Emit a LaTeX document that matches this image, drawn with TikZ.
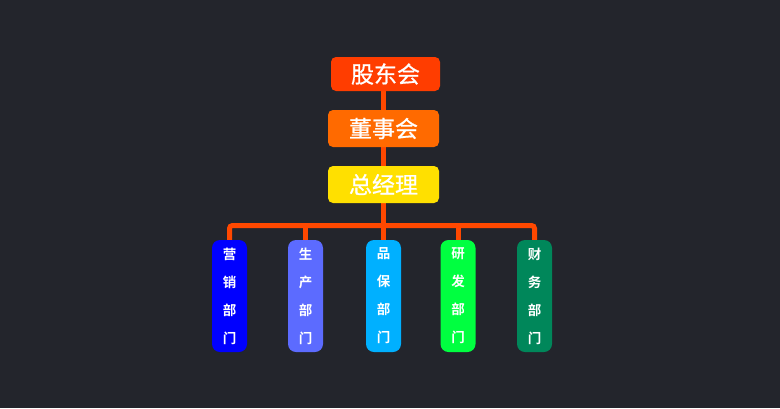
\documentclass[tikz,border=0pt]{standalone}
\usepackage{fontspec}
\newfontfamily\cjk[FakeBold=0.8]{Noto Sans CJK SC}
\newfontfamily\cjkb{Noto Sans CJK SC Bold}
\pgfdeclarelayer{bgl}
\pgfsetlayers{bgl,main}
\definecolor{bg}{HTML}{23252C}
\definecolor{linec}{HTML}{FF4800}
\definecolor{cA}{HTML}{FF3D00}
\definecolor{cB}{HTML}{FF6A00}
\definecolor{cC}{HTML}{FFE000}
\definecolor{d1c}{HTML}{0000FF}
\definecolor{d2c}{HTML}{5C6BFF}
\definecolor{d3c}{HTML}{00B0FF}
\definecolor{d4c}{HTML}{00FF40}
\definecolor{d5c}{HTML}{00875A}
\begin{document}
\begin{tikzpicture}[x=1pt,y=-1pt,
  topbox/.style={rounded corners=5pt, minimum width=111pt, minimum height=37pt, inner sep=0pt, text=white, font=\cjk\fontsize{23}{23}\selectfont},
  deptbox/.style={rounded corners=8pt, minimum width=35pt, minimum height=112pt, inner sep=0pt, text=white, font=\cjkb\fontsize{13.5}{28}\selectfont, align=center},
  conn/.style={draw=linec, line width=5pt}]
\useasboundingbox (0,0) rectangle (780,408);
\node[topbox, fill=cA, minimum width=109pt, minimum height=34pt] (gd) at (385.5,74) {股东会};
\node[topbox, fill=cB] (dsh) at (383.5,128.5) {董事会};
\node[topbox, fill=cC] (zjl) at (383.5,184.5) {总经理};
\node[deptbox, fill=d1c] (d1) at (229.5,296) {营\\销\\部\\门};
\node[deptbox, fill=d2c] (d2) at (305.5,296) {生\\产\\部\\门};
\node[deptbox, fill=d3c] (d3) at (383.5,296) {品\\保\\部\\门};
\node[deptbox, fill=d4c] (d4) at (458,296) {研\\发\\部\\门};
\node[deptbox, fill=d5c] (d5) at (534.5,296) {财\\务\\部\\门};
\coordinate (bar) at (383.5,225.5);
\begin{pgfonlayer}{bgl}
\fill[bg] (0,0) rectangle (780,408);
\draw[conn] (bar |- gd.center) -- (bar);
\draw[conn, rounded corners=3pt] (d1.center) -- (d1.center |- bar) -- (d5.center |- bar) -- (d5.center);
\draw[conn] (d2.center |- bar) -- (d2.center);
\draw[conn] (d3.center |- bar) -- (d3.center);
\draw[conn] (d4.center |- bar) -- (d4.center);
\end{pgfonlayer}
\end{tikzpicture}
\end{document}
